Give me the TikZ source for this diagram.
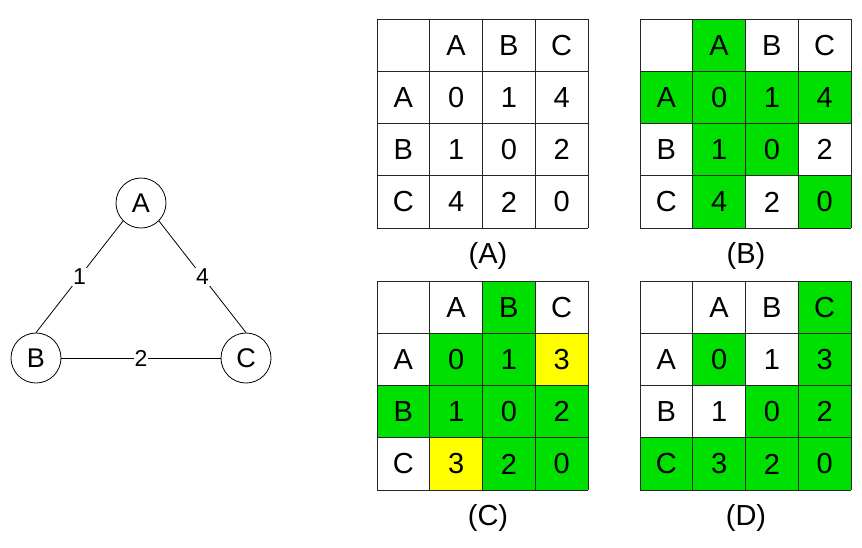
\documentclass[tikz,border=0pt]{standalone}
\usepackage{fontspec}
\setmainfont{Liberation Sans}
\usepackage{tikz}
\definecolor{hlgreen}{RGB}{0,224,0}
\definecolor{hlyellow}{RGB}{255,255,0}
\tikzset{
  vertex/.style={draw, thick, circle, minimum size=50pt, inner sep=0pt, font=\fontsize{27}{32}\selectfont},
  weight/.style={fill=white, inner sep=1pt, font=\fontsize{23}{28}\selectfont},
  cell/.style={inner sep=0pt, font=\fontsize{29}{34}\selectfont},
  gridline/.style={line width=1pt, draw=black!85},
  caption/.style={font=\fontsize{29}{34}\selectfont},
  visited/.style={fill=hlgreen},
  updated/.style={fill=hlyellow},
}
% one distance table: origin, name, rows of values
\newcommand{\distgrid}[3]{%
  \begin{scope}[shift={#1}, x=52.75pt, y=-52.25pt]
    \foreach \k in {0,...,4} {
      \draw[gridline] (\k,0) -- (\k,4);
      \draw[gridline] (0,\k) -- (4,\k);
    }
    \foreach \lab [count=\i] in {A,B,C} {
      \node[cell] (#2-0-\i) at (\i+0.5,0.5) {\lab};
      \node[cell] (#2-\i-0) at (0.5,\i+0.5) {\lab};
    }
    \foreach \row [count=\r] in {#3}
      \foreach \v [count=\c] in \row
        \node[cell] (#2-\r-\c) at (\c+0.5,\r+0.5) {\v};
  \end{scope}}
% coloured cells of a table: origin, list col/row/style
\newcommand{\markcells}[2]{%
  \begin{scope}[shift={#1}, x=52.75pt, y=-52.25pt]
    \foreach \c/\r/\hl in {#2}
      \fill[\hl] (\c,\r) rectangle ++(1,1);
  \end{scope}}

\begin{document}
\begin{tikzpicture}[x=1pt, y=-1pt]
  \useasboundingbox (0,0) rectangle (862,547);
  % graph
  \node[vertex] (A) at (141,203) {A};
  \node[vertex] (B) at (36,358) {B};
  \node[vertex] (C) at (246,358) {C};
  \draw[thick] (A.south west) -- node[weight] {1} (B.north);
  \draw[thick] (A.south east) -- node[weight] {4} (C.north);
  \draw[thick] (B) -- node[weight] {2} (C);
  % (A)
  \distgrid{(377,19)}{tA}{{0,1,4},{1,0,2},{4,2,0}}
  \node[caption] (capA) at (488,256) {(A)};
  % (B)
  \markcells{(640,19)}{1/0/visited, 0/1/visited, 1/1/visited, 2/1/visited, 3/1/visited,
    1/2/visited, 2/2/visited, 1/3/visited, 3/3/visited}
  \distgrid{(640,19)}{tB}{{0,1,4},{1,0,2},{4,2,0}}
  \node[caption] (capB) at (746,256) {(B)};
  % (C)
  \markcells{(377,281)}{2/0/visited, 1/1/visited, 2/1/visited, 3/1/updated,
    0/2/visited, 1/2/visited, 2/2/visited, 3/2/visited, 1/3/updated, 2/3/visited, 3/3/visited}
  \distgrid{(377,281)}{tC}{{0,1,3},{1,0,2},{3,2,0}}
  \node[caption] (capC) at (488,518) {(C)};
  % (D)
  \markcells{(640,281)}{3/0/visited, 1/1/visited, 3/1/visited, 2/2/visited, 3/2/visited,
    0/3/visited, 1/3/visited, 2/3/visited, 3/3/visited}
  \distgrid{(640,281)}{tD}{{0,1,3},{1,0,2},{3,2,0}}
  \node[caption] (capD) at (746,518) {(D)};
\end{tikzpicture}
\end{document}
